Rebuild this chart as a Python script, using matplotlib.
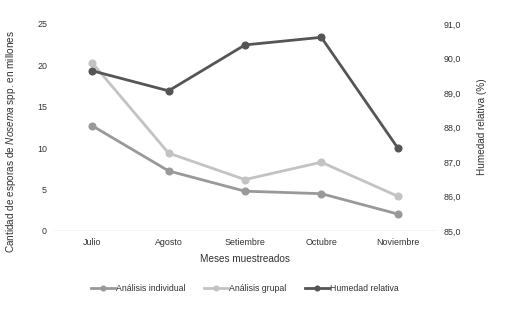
import matplotlib
matplotlib.use("Agg")
import matplotlib.pyplot as plt

plt.rcParams['font.family'] = ['Liberation Sans', 'DejaVu Sans']
plt.rcParams['mathtext.fontset'] = 'custom'
plt.rcParams['mathtext.rm'] = 'Liberation Sans'
plt.rcParams['mathtext.it'] = 'Liberation Sans:italic'

# Datos
meses = ["Julio", "Agosto", "Setiembre", "Octubre", "Noviembre"]
individual = [12.7, 7.25, 4.8, 4.5, 2.05]
grupal = [20.3, 9.4, 6.2, 8.3, 4.2]
humedad = [89.64, 89.06, 90.39, 90.61, 87.41]

C_IND = '#999999'
C_GRU = '#c3c3c3'
C_HUM = '#555555'
TXT = '#333333'

fig = plt.figure(figsize=(5.05, 3.10), dpi=100)
ax = fig.add_axes([0.107, 0.255, 0.756, 0.668])
ax2 = ax.twinx()

x = range(len(meses))
l1, = ax.plot(x, individual, color=C_IND, lw=2.0, marker='o', ms=4.8, label='Análisis individual')
l2, = ax.plot(x, grupal, color=C_GRU, lw=2.0, marker='o', ms=4.8, label='Análisis grupal')
l3, = ax2.plot(x, humedad, color=C_HUM, lw=2.0, marker='o', ms=4.8, label='Humedad relativa')

ax.set_xlim(-0.5, len(meses) - 0.5)
ax.set_ylim(0, 25)
ax.set_yticks([0, 5, 10, 15, 20, 25])
ax2.set_ylim(85, 91)
ax2.set_yticks([85, 86, 87, 88, 89, 90, 91])
ax2.set_yticklabels([f"{v:.1f}".replace('.', ',') for v in ax2.get_yticks()])

ax.set_xticks(list(x))
ax.set_xticklabels(meses)

for a in (ax, ax2):
    for s in a.spines.values():
        s.set_visible(False)
    a.tick_params(length=0, labelsize=6.4, colors=TXT)
ax.tick_params(axis='y', pad=5)
ax2.tick_params(axis='y', pad=5.5)
ax.tick_params(axis='x', pad=5)
ax.axhline(0, color='#cccccc', lw=1.0, zorder=0)

ax.set_xlabel("Meses muestreados", fontsize=7.2, color=TXT, labelpad=5)
ax.set_ylabel("Cantidad de esporas de $\\it{Nosema}$ spp. en millones", fontsize=7.2, color=TXT)
ax.yaxis.set_label_coords(-0.095, 0.43)
ax2.set_ylabel("Humedad relativa (%)", fontsize=7.2, color=TXT)
ax2.yaxis.set_label_coords(1.107, 0.502)

fig.legend(handles=[l1, l2, l3], loc='center', bbox_to_anchor=(0.485, 0.07), ncol=3,
           frameon=False, fontsize=6.3, handlelength=2.8, handletextpad=0.1,
           columnspacing=2.1, labelcolor=TXT, markerscale=0.7)

fig.savefig("out.png", dpi=100)
